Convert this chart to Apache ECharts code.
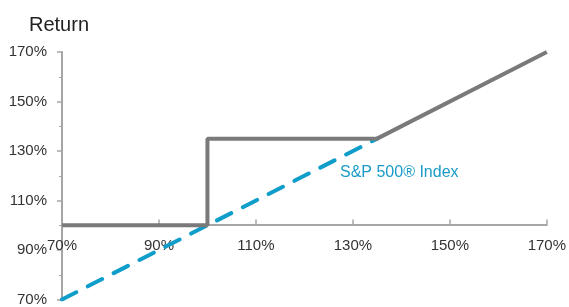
<!DOCTYPE html>
<html>
<head>
<meta charset="utf-8">
<script src="https://cdn.jsdelivr.net/npm/echarts@6/dist/echarts.min.js"></script>
<style>
  html, body { margin: 0; padding: 0; background: #fff; }
  #chart { width: 569px; height: 307px; }
</style>
</head>
<body>
<div id="chart"></div>
<script>
// underlying level (%) vs. note return (%)
const notePoints = [[70, 100], [100, 100], [100, 135], [135, 135], [170, 170]];
const indexPoints = [[70, 70], [135, 135]];
const indexName = 'S&P 500® Index';
const axisMin = 70, axisMax = 170, axisStep = 20;

const chart = echarts.init(document.getElementById('chart'));
const fmt = v => v + '%';

chart.setOption({
  animation: false,
  backgroundColor: '#fff',
  textStyle: { fontFamily: 'Liberation Sans, Arial, sans-serif' },
  grid: { left: 62, right: 22, top: 52, bottom: 5, containLabel: false },
  title: {
    text: 'Return', left: 24, top: 10,
    textStyle: { fontSize: 20, fontWeight: 'normal', color: '#222', fontFamily: 'Liberation Sans, Arial, sans-serif' }
  },
  xAxis: {
    type: 'value', min: axisMin, max: axisMax, interval: axisStep,
    position: 'bottom', offset: -75,
    axisLine: { show: true, onZero: false, lineStyle: { color: '#a6a6a6', width: 2 } },
    axisTick: { show: true, inside: true, length: 5, lineStyle: { color: '#a6a6a6', width: 1.5 } },
    axisLabel: { formatter: fmt, color: '#333', fontSize: 15, margin: 14 },
    splitLine: { show: false }
  },
  yAxis: {
    type: 'value', min: axisMin, max: axisMax, interval: axisStep,
    axisLine: { show: true, lineStyle: { color: '#a6a6a6', width: 2 } },
    axisTick: { show: true, length: 5, lineStyle: { color: '#a6a6a6', width: 1.5 } },
    minorTick: { show: true, splitNumber: 2, length: 3, lineStyle: { color: '#a6a6a6' } },
    axisLabel: { formatter: fmt, color: '#333', fontSize: 15, margin: 15 },
    splitLine: { show: false }
  },
  series: [
    {
      name: indexName, type: 'line', data: indexPoints, symbol: 'none', z: 2,
      lineStyle: { color: '#0f9dc9', width: 4, type: [16, 13], cap: 'round' }
    },
    {
      name: 'Note', type: 'line', data: notePoints, symbol: 'none', z: 3,
      lineStyle: { color: '#7a7a7a', width: 4 }
    }
  ],
  graphic: [{
    type: 'text', left: 340, top: 165,
    style: { text: indexName, fill: '#1a9bc7', font: '16px Liberation Sans, Arial, sans-serif' }
  }]
});
</script>
</body>
</html>
